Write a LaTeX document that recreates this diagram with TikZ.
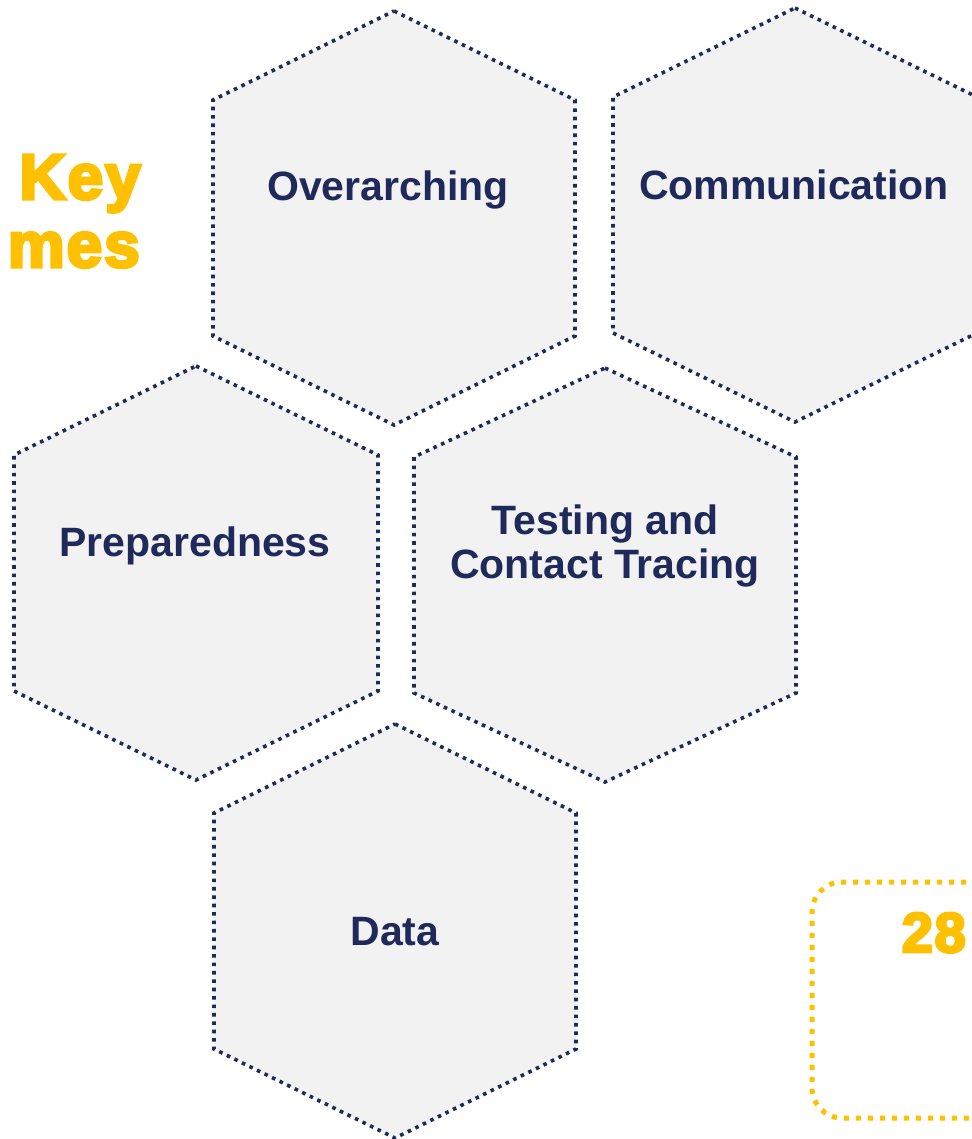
\documentclass[tikz,border=0pt]{standalone}
\usepackage{fontspec}
\setmainfont{Liberation Sans}
\newfontfamily\heavyfont[FakeBold=5, LetterSpace=3]{Liberation Sans Bold}
\usetikzlibrary{positioning}
\definecolor{navy}{HTML}{1F2A5A}
\definecolor{gold}{HTML}{FFC000}
\definecolor{cellgrey}{HTML}{F2F2F2}

\tikzset{
  hexline/.style={draw=navy, fill=cellgrey, line width=3.6pt,
                  dash pattern=on 3.6pt off 4.8pt},
  hexlabel/.style={text=navy, font=\fontsize{41}{44}\selectfont\bfseries,
                   align=center},
  titletext/.style={text=gold, font=\heavyfont\fontsize{64}{68}\selectfont,
                    anchor=base east, inner sep=0pt},
}

\begin{document}
\begin{tikzpicture}[x=1pt, y=-1pt]
\useasboundingbox (0,0) rectangle (971,1139);

% honeycomb cells
\foreach \cx/\cy/\hw in {394/218/181, 795/215/182, 196/573/182, 605/575/191, 395/931/181}
  \draw[hexline, shift={(\cx,\cy)}] (0,-207) -- (\hw,-118) -- (\hw,118)
    -- (0,207) -- (-\hw,118) -- (-\hw,-118) -- cycle;

\node[hexlabel] (overarching) at (388,190) {Overarching};
\node[hexlabel] (communication) at (794,185) {Communication};
\node[hexlabel] (preparedness) at (195,546) {Preparedness};
\node[hexlabel] (testing) at (605,546) {Testing and\\Contact Tracing};
\node[hexlabel] (data) at (395,932) {Data};

% heading
\node[titletext] (key) at (141,199) {Key};
\node[titletext] (themes) at (140,267) {mes};

% counter box
\draw[gold, line width=5pt, dash pattern=on 5pt off 7pt, rounded corners=30pt]
  (990,882) -- (812,882) -- (812,1118) -- (990,1118);
\node[text=gold, font=\heavyfont\fontsize{56}{60}\selectfont,
      anchor=base east, inner sep=0pt] (count) at (966,952) {28};
\end{tikzpicture}
\end{document}
